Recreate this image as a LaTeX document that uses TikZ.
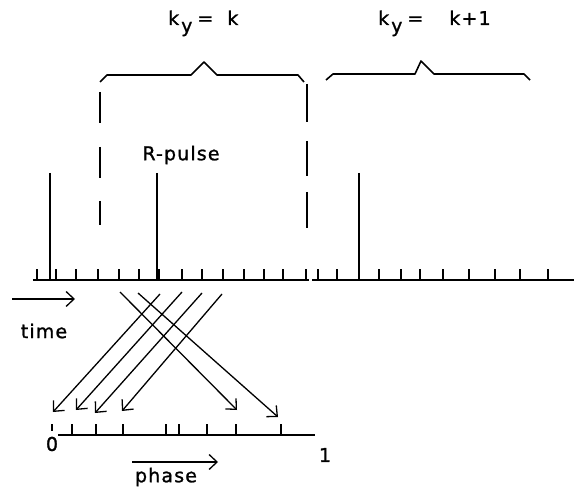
\documentclass[tikz,border=0pt]{standalone}
\usepackage{fontspec}
\setmainfont{DejaVu Sans}[LetterSpace=6,FakeBold=1.2]
\usetikzlibrary{arrows.meta}

\tikzset{
  axis/.style={line width=1.6pt},
  tickmark/.style={line width=1.6pt},
  pulse/.style={line width=1.8pt},
  brace/.style={line width=1.6pt,line join=round},
  ray/.style={line width=1.3pt,-{Straight Barb[length=8pt,width=15pt,line width=1.3pt]}},
  lbl/.style={inner sep=0pt,font=\fontsize{19}{22}\selectfont}
}

\begin{document}
\begin{tikzpicture}[x=1pt,y=-1pt]
  \useasboundingbox (0,0) rectangle (574,492);

  % time axis
  \draw[axis] (33,280) -- (309,280);
  \draw[axis] (312,280) -- (574,280);
  \foreach \t in {37,56,76,98,119,139,159,182,202,223,244,264,283,306,318,
                  337,379,401,420,443,469,495,520,548}
    \draw[tickmark] (\t,280) -- (\t,269);

  % pulses
  \foreach \p/\n in {50/pa,157/pb,359/pc} {
    \coordinate (\n) at (\p,173);
    \draw[pulse] (\n) -- (\p,280);
  }
  \node[lbl] (rpulse) at (181,155) {R-pulse};

  % window borders
  \foreach \a/\b in {92/123,147/178,201/225}
    \draw[pulse] (100,\a) -- (100,\b);
  \foreach \a/\b in {84/122,141/176,192/228}
    \draw[pulse] (307,\a) -- (307,\b);

  % braces
  \draw[brace] (100,82) -- (107,75) -- (191,75) -- (204,62) -- (217,75)
    -- (298,75) -- (304,82);
  \draw[brace] (326,80) -- (333,74) -- (415,74) -- (421,61) -- (434,74)
    -- (524,74) -- (530,80);
  \node[lbl,anchor=base west] (kya) at (168,25)
    {k\hspace{2pt}\raisebox{-.7ex}{y}\hspace{5pt}=\hspace{14pt}k};
  \node[lbl,anchor=base west] (kyb) at (378,25)
    {k\hspace{2pt}\raisebox{-.7ex}{y}\hspace{5pt}=\hspace{26pt}k+1};

  % time arrow
  \coordinate (ta) at (12,299);
  \coordinate (tb) at (75,299);
  \draw[ray] (ta) -- (tb);
  \node[lbl] (time) at (44,331) {time};

  % rays onto the phase axis
  \foreach \n/\s/\e in {1/{120,292}/{237,410},2/{138,293}/{278,417},
                        3/{160,294}/{53,412},4/{182,292}/{76,410},
                        5/{202,293}/{95,413},6/{222,294}/{122,411}} {
    \coordinate (s\n) at (\s);
    \coordinate (q\n) at (\e);
    \draw[ray] (s\n) -- (q\n);
  }

  % phase axis
  \draw[axis] (58,435) -- (315,435);
  \draw[tickmark] (52,424) -- (52,431);
  \foreach \t in {72,96,123,166,179,207,236,281}
    \draw[tickmark] (\t,435) -- (\t,424);
  \node[lbl] (zero) at (52,444) {0};
  \node[lbl] (one) at (325,455) {1};

  % phase arrow
  \coordinate (pa) at (132,462);
  \coordinate (pb) at (218,462);
  \draw[ray] (pa) -- (pb);
  \node[lbl] (phase) at (166,477) {phase};
\end{tikzpicture}
\end{document}
